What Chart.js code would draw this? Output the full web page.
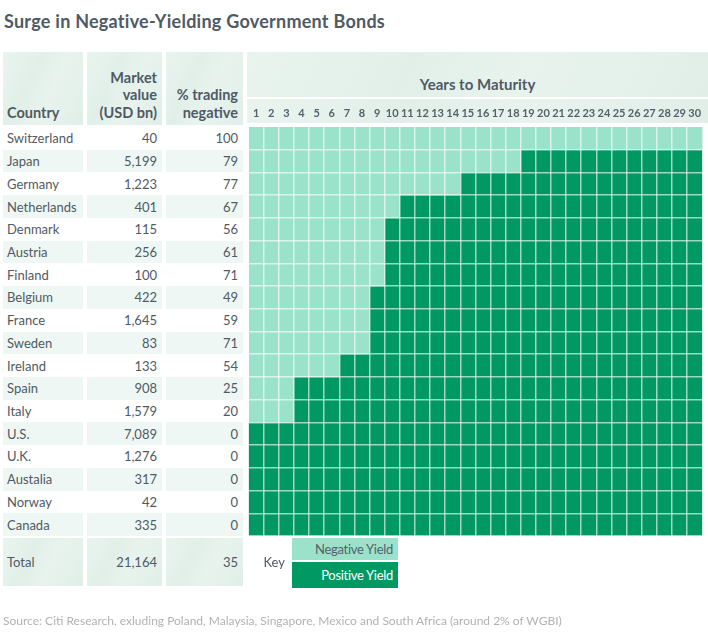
<!DOCTYPE html>
<html><head><meta charset="utf-8">
<script src="https://cdn.jsdelivr.net/npm/chart.js@4.4.1/dist/chart.umd.min.js"></script>
<style>
body{margin:0;width:708px;height:640px;position:relative;background:#fff;font-family:Lato,"Open Sans",sans-serif;color:#4f5a65;overflow:hidden}
.abs{position:absolute;box-sizing:border-box}
#title{left:4px;top:10px;font-size:18px;font-weight:700;letter-spacing:0.25px;white-space:nowrap}
.hdr{background:linear-gradient(115deg,#e9f4ef 0%,#e2efe9 35%,#e8f3ee 60%,#e1eee8 100%)}
.hcell{display:flex;flex-direction:column;justify-content:flex-end;font-size:14.5px;font-weight:700;line-height:17.5px;padding-bottom:4px}
.cell{display:flex;align-items:center;font-size:13px;white-space:nowrap}
.alt{background:#eef7f3}
.r{justify-content:flex-end;text-align:right}
#src{left:3px;top:613px;font-size:12px;color:#b2b2b2;white-space:nowrap}
#chartbox{left:246px;top:0;width:462px;height:640px}
.key{left:292px;width:106px;display:flex;align-items:center;justify-content:flex-end;padding-right:5px;font-size:13px;letter-spacing:-0.3px}
</style>
</head><body>
<div id="title" class="abs">Surge in Negative-Yielding Government Bonds</div>

<div class="abs hdr hcell" style="left:3px;top:52px;width:80px;height:73px;padding-left:4px">Country</div>
<div class="abs hdr hcell r" style="left:87px;top:52px;width:75px;height:73px;padding-right:5px;align-items:flex-end">Market<br>value<br>(USD bn)</div>
<div class="abs hdr hcell r" style="left:166px;top:52px;width:77px;height:73px;padding-right:5px;align-items:flex-end">% trading<br>negative</div>
<div class="abs hdr" style="left:247px;top:52px;width:461px;height:45px;display:flex;align-items:flex-end;justify-content:center;padding-bottom:4px;font-size:15px;font-weight:700">Years to Maturity</div>
<div class="abs hdr" style="left:247px;top:99px;width:461px;height:24px"></div>

<div id="chartbox" class="abs"><canvas id="c"></canvas></div>
<div id="rows"></div>

<div id="src" class="abs">Source: Citi Research, exluding Poland, Malaysia, Singapore, Mexico and South Africa (around 2% of WGBI)</div>

<script>
const countries = ['Switzerland','Japan','Germany','Netherlands','Denmark','Austria','Finland','Belgium','France','Sweden','Ireland','Spain','Italy','U.S.','U.K.','Austalia','Norway','Canada'];
const marketValue = [40,5199,1223,401,115,256,100,422,1645,83,133,908,1579,7089,1276,317,42,335];
const pctNegative = [100,79,77,67,56,61,71,49,59,71,54,25,20,0,0,0,0,0];
const negYears = [30,18,14,10,9,9,9,8,8,8,6,3,3,0,0,0,0,0];
const posYears = [0,12,16,20,21,21,21,22,22,22,24,27,27,30,30,30,30,30];
const yearLabels = ['1','2','3','4','5','6','7','8','9','10','11','12','13','14','15','16','17','18','19','20','21','22','23','24','25','26','27','28','29','30'];
const totalMarket = 21164;
const totalPct = 35;
const keyLabels = ['Negative Yield','Positive Yield'];

const NEG = '#9ae3ca', POS = '#009963', LINE = 'rgba(255,255,255,0.62)';

const chart = new Chart(document.getElementById('c'), {
  type: 'bar',
  data: {
    labels: countries,
    datasets: [
      {label: keyLabels[0], data: negYears, backgroundColor: NEG, borderWidth: 0, barPercentage: 1, categoryPercentage: 1},
      {label: keyLabels[1], data: posYears, backgroundColor: POS, borderWidth: 0, barPercentage: 1, categoryPercentage: 1}
    ]
  },
  options: {
    indexAxis: 'y',
    responsive: true,
    maintainAspectRatio: false,
    animation: false,
    layout: {padding: {top: 100, bottom: 104, left: 0, right: 0}},
    plugins: {legend: {display: false}, tooltip: {enabled: false}},
    scales: {
      x: {
        type: 'linear', stacked: true, min: 0, max: 30, position: 'bottom',
        ticks: {display: false, stepSize: 1},
        border: {display: false},
        grid: {z: 1, drawTicks: false, lineWidth: 1.5,
          color: ctx => (ctx.tick && (ctx.tick.value === 0 || ctx.tick.value === 30)) ? 'rgba(0,0,0,0)' : LINE},
        afterFit: s => { s.height = 0; }
      },
      years: {
        type: 'category', labels: yearLabels, position: 'top', offset: true,
        grid: {display: false, drawTicks: false},
        border: {display: false},
        ticks: {autoSkip: false, maxRotation: 0, padding: 7, color: '#56616c',
          font: {family: 'Lato', size: 11, weight: 'bold'}},
        afterFit: s => { s.height = 27; }
      },
      y: {
        stacked: true,
        ticks: {display: false},
        border: {display: false},
        grid: {z: 1, drawTicks: false, lineWidth: 1.5, offset: true,
          color: ctx => (ctx.index === 0 || ctx.index >= countries.length) ? 'rgba(0,0,0,0)' : LINE},
        afterFit: s => { s.width = 0; }
      }
    }
  }
});

// Table rows aligned to the chart's category scale
const ys = chart.scales.y;
const area = chart.chartArea;
const rh = (area.bottom - area.top) / countries.length;
const rowsEl = document.getElementById('rows');
const fmt = v => v.toLocaleString('en-US');
function cell(left, width, top, height, text, cls, extra) {
  const d = document.createElement('div');
  d.className = 'abs cell ' + (cls || '');
  d.style.cssText = `left:${left}px;width:${width}px;top:${top}px;height:${height}px;` + (extra || '');
  d.textContent = text;
  rowsEl.appendChild(d);
  return d;
}
countries.forEach((c, i) => {
  const top = ys.getPixelForValue(i) - rh / 2;
  const alt = i % 2 === 1 ? 'alt' : '';
  cell(3, 80, top, rh, c, alt, 'padding-left:4px');
  cell(87, 75, top, rh, fmt(marketValue[i]), 'r ' + alt, 'padding-right:5px');
  cell(166, 77, top, rh, String(pctNegative[i]), 'r ' + alt, 'padding-right:5px');
});
const tTop = area.bottom + 2, tH = 48;
cell(3, 80, tTop, tH, 'Total', 'hdr', 'padding-left:4px');
cell(87, 75, tTop, tH, fmt(totalMarket), 'r hdr', 'padding-right:5px');
cell(166, 77, tTop, tH, String(totalPct), 'r hdr', 'padding-right:5px');
cell(250, 36, tTop, tH, 'Key', 'r', 'padding-right:1px');
cell(292, 106, tTop, 22, keyLabels[0], 'key', `background:${NEG};color:#56616c`);
cell(292, 106, tTop + 24, 26, keyLabels[1], 'key', `background:${POS};color:#fff`);
</script>
</body></html>
